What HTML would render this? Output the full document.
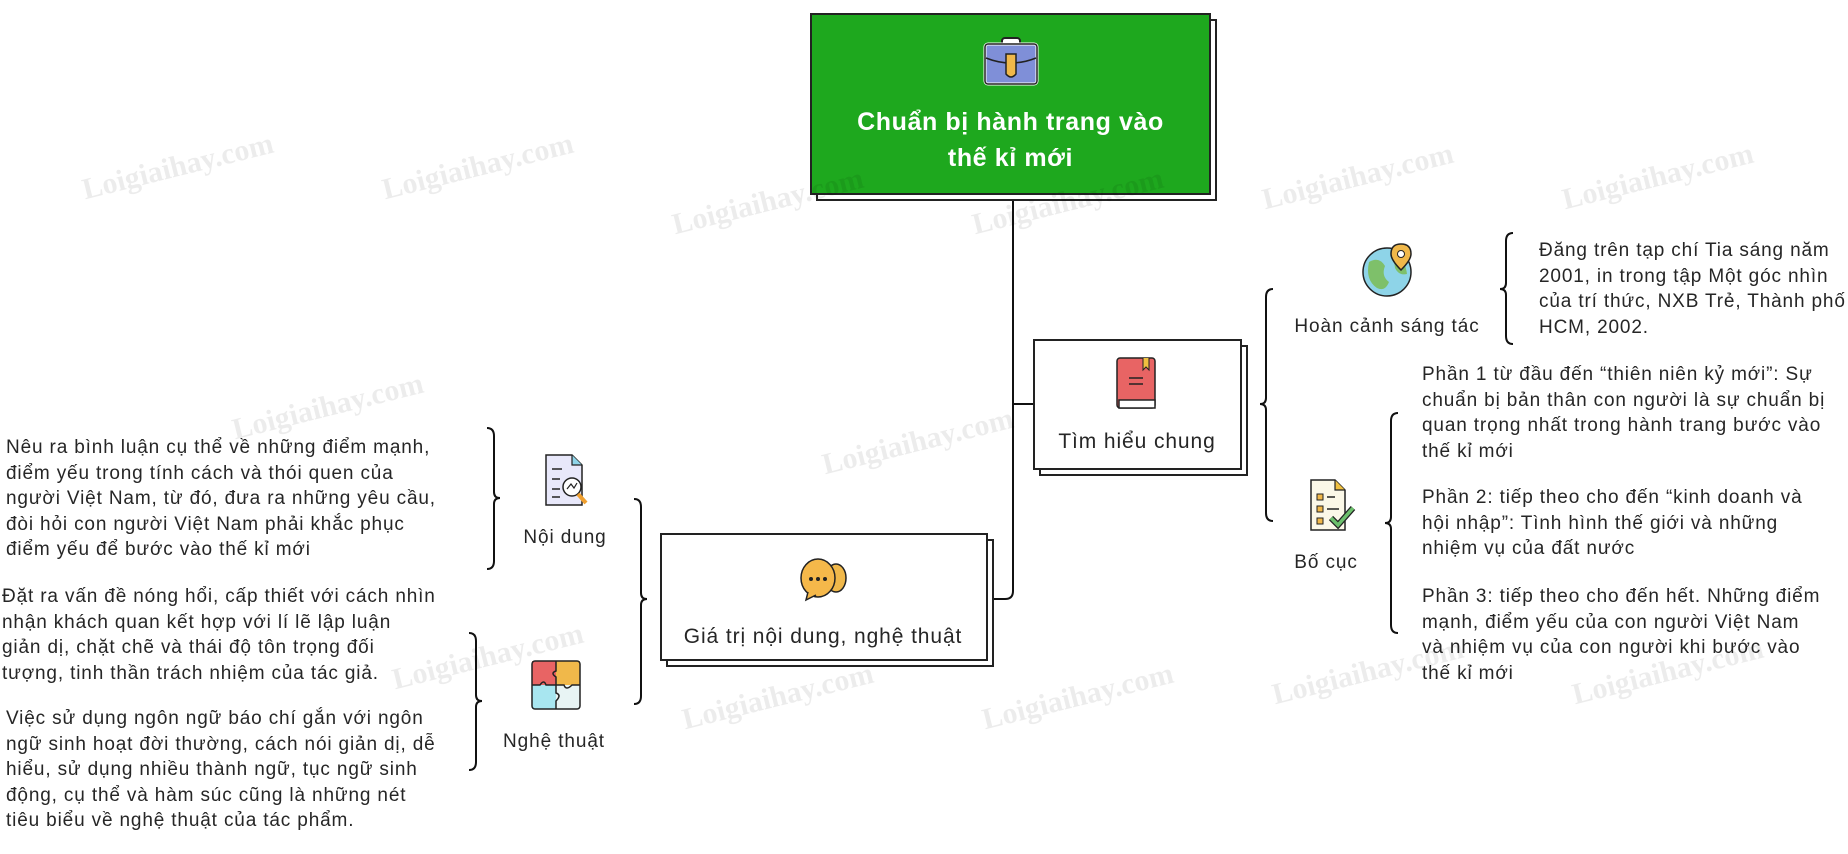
<!DOCTYPE html>
<html><head><meta charset="utf-8">
<style>
body{margin:0;width:1848px;height:854px;background:#fff;position:relative;overflow:hidden;font-family:"Liberation Sans","DejaVu Sans",sans-serif;color:#222}
.t{position:absolute;font-size:19px;letter-spacing:0.85px;line-height:25.5px;white-space:nowrap;color:#262626}
.lbl{position:absolute;font-size:19px;letter-spacing:0.9px;white-space:nowrap;color:#262626;transform:translateX(-50%)}
.wm{position:absolute;font-family:"Liberation Serif",serif;font-weight:bold;font-size:30px;color:#000;opacity:0.07;transform:rotate(-14deg);white-space:nowrap}
</style></head><body>
<svg width="1848" height="854" style="position:absolute;left:0;top:0">
<g fill="none" stroke="#111" stroke-width="2">
<path d="M1013 194 L1013 591 Q1013 599 1005 599 L987 599"/>
<path d="M1013 404 L1034 404"/>
<path d="M1273 289 Q1266 289 1266 297 L1266 398 Q1266 404 1260 404 Q1266 404 1266 410 L1266 513 Q1266 521 1273 521"/>
<path d="M1513 233 Q1506 233 1506 241 L1506 283 Q1506 289 1500 289 Q1506 289 1506 295 L1506 336 Q1506 344 1513 344"/>
<path d="M1398 413 Q1391 413 1391 421 L1391 517 Q1391 523 1385 523 Q1391 523 1391 529 L1391 625 Q1391 633 1398 633"/>
<path d="M634 499 Q641 499 641 507 L641 593 Q641 599 647 599 Q641 599 641 605 L641 696 Q641 704 634 704"/>
<path d="M487 428 Q494 428 494 436 L494 492 Q494 498 500 498 Q494 498 494 504 L494 561 Q494 569 487 569"/>
<path d="M469 633 Q476 633 476 641 L476 695 Q476 701 482 701 Q476 701 476 707 L476 762 Q476 770 469 770"/>
</g>
<rect x="817" y="20" width="399" height="180" fill="#fff" stroke="#222" stroke-width="2"/>
<rect x="811" y="14" width="399" height="180" fill="#1ea81e" stroke="#222" stroke-width="2"/>
<g transform="translate(985,38)">
<rect x="17" y="0" width="18" height="8" rx="3" fill="#fff" stroke="#222" stroke-width="2"/>
<rect x="0" y="6" width="52" height="40" rx="3" fill="#7f8fd8" stroke="#fff" stroke-width="3"/>
<rect x="0" y="6" width="52" height="40" rx="3" fill="none" stroke="#222" stroke-width="1.5"/>
<path d="M1 20 Q26 30 51 20" fill="none" stroke="#222" stroke-width="1.5"/>
<path d="M21 16 L31 16 L31 36 Q26 42 21 36 Z" fill="#f0b84a" stroke="#222" stroke-width="1.5"/>
</g>
<rect x="1040" y="346" width="207" height="129" fill="#fff" stroke="#222" stroke-width="2"/>
<rect x="1034" y="340" width="207" height="129" fill="#fff" stroke="#222" stroke-width="2"/>
<g transform="translate(1117,358)">
<rect x="0" y="0" width="38" height="50" rx="3" fill="#e86464" stroke="#222" stroke-width="1.5"/>
<rect x="2" y="42" width="36" height="8" fill="#fff" stroke="#222" stroke-width="1.5"/>
<path d="M26 0 L26 12 L29 9 L32 12 L32 0" fill="#f0c040" stroke="#222" stroke-width="1"/>
<path d="M12 20 H26 M12 26 H26" stroke="#222" stroke-width="1.5"/>
</g>
<rect x="667" y="540" width="326" height="126" fill="#fff" stroke="#222" stroke-width="2"/>
<rect x="661" y="534" width="326" height="126" fill="#fff" stroke="#222" stroke-width="2"/>
<g transform="translate(800,558)">
<ellipse cx="36" cy="20" rx="10" ry="14" fill="#f0b84a" stroke="#222" stroke-width="1.5"/>
<ellipse cx="18" cy="20" rx="17" ry="19" fill="#f5b84a" stroke="#222" stroke-width="1.5"/>
<path d="M8 34 L6 42 L16 37" fill="#f5b84a" stroke="#222" stroke-width="1.5"/>
<circle cx="11" cy="21" r="2" fill="#222"/><circle cx="18" cy="21" r="2" fill="#222"/><circle cx="25" cy="21" r="2" fill="#222"/>
</g>
<g transform="translate(1363,244)">
<circle cx="24" cy="28" r="24" fill="#8ed4e8" stroke="#222" stroke-width="1.5"/>
<path d="M6 18 Q16 12 22 22 Q18 32 26 38 Q22 48 14 44 Q2 36 6 18Z" fill="#7ec06a"/>
<path d="M30 10 Q42 14 44 30 Q36 32 32 24Z" fill="#7ec06a"/>
<path d="M38 0 Q48 0 48 10 Q48 16 38 26 Q28 16 28 10 Q28 0 38 0Z" fill="#f0b84a" stroke="#222" stroke-width="1.5"/>
<circle cx="38" cy="10" r="3.5" fill="#fff" stroke="#222" stroke-width="1"/>
</g>
<g transform="translate(1311,480)">
<path d="M0 0 H24 L34 10 V50 H0Z" fill="#fbf8e8" stroke="#222" stroke-width="1.5"/>
<path d="M24 0 V10 H34" fill="#f0c040" stroke="#222" stroke-width="1.2"/>
<rect x="6" y="14" width="6" height="6" fill="#f0b84a" stroke="#222"/><rect x="6" y="26" width="6" height="6" fill="#f0b84a" stroke="#222"/><rect x="6" y="38" width="6" height="6" fill="#f0b84a" stroke="#222"/>
<path d="M16 17 H24 M16 29 H28" stroke="#222" stroke-width="1.5"/>
<path d="M20 38 L27 45 L42 28" fill="none" stroke="#222" stroke-width="6"/>
<path d="M20 38 L27 45 L42 28" fill="none" stroke="#6cc06c" stroke-width="3.5"/>
</g>
<g transform="translate(546,455)">
<path d="M0 0 H26 L36 10 V50 H0Z" fill="#e8e8fa" stroke="#222" stroke-width="1.5"/>
<path d="M26 0 V10 H36" fill="#8ed4e8" stroke="#222" stroke-width="1.2"/>
<path d="M6 14 H16 M6 24 H14 M6 34 H14 M6 42 H14" stroke="#222" stroke-width="1.5"/>
<circle cx="26" cy="32" r="9" fill="#fff" stroke="#222" stroke-width="1.5"/>
<path d="M32 39 L40 48" stroke="#f0a030" stroke-width="4"/>
<path d="M21 34 L25 29 L28 33 L31 28" fill="none" stroke="#222" stroke-width="1.2"/>
</g>
<g transform="translate(532,661)">
<rect x="0" y="0" width="24" height="24" fill="#e86464"/><rect x="24" y="0" width="24" height="24" fill="#f0b84a"/>
<rect x="0" y="24" width="24" height="24" fill="#a8e6f0"/><rect x="24" y="24" width="24" height="24" fill="#e8f4f4"/>
<rect x="0" y="0" width="48" height="48" rx="3" fill="none" stroke="#222" stroke-width="1.5"/>
<path d="M24 0 V10 Q18 12 24 16 V24 H14 Q12 18 8 24 H0 M24 24 V32 Q30 34 24 40 V48 M24 24 H32 Q34 30 40 24 H48" fill="none" stroke="#222" stroke-width="1.5"/>
</g>
</svg>

<div style="position:absolute;left:811px;top:104px;width:399px;text-align:center;color:#fff;font-weight:bold;font-size:25px;letter-spacing:0.6px;line-height:36px">Chuẩn bị hành trang vào<br>thế kỉ mới</div>
<div class="lbl" style="left:1137px;top:430px;font-size:21px">Tìm hiểu chung</div>
<div class="lbl" style="left:823px;top:625px;font-size:21px">Giá trị nội dung, nghệ thuật</div>
<div class="lbl" style="left:1387px;top:316px">Hoàn cảnh sáng tác</div>
<div class="lbl" style="left:1326px;top:552px">Bố cục</div>
<div class="lbl" style="left:565px;top:527px">Nội dung</div>
<div class="lbl" style="left:554px;top:731px">Nghệ thuật</div>

<div class="t" style="left:1539px;top:238px">Đăng trên tạp chí Tia sáng năm<br>2001, in trong tập Một góc nhìn<br>của trí thức, NXB Trẻ, Thành phố<br>HCM, 2002.</div>
<div class="t" style="left:1422px;top:362px">Phần 1 từ đầu đến “thiên niên kỷ mới”: Sự<br>chuẩn bị bản thân con người là sự chuẩn bị<br>quan trọng nhất trong hành trang bước vào<br>thế kỉ mới</div>
<div class="t" style="left:1422px;top:485px">Phần 2: tiếp theo cho đến “kinh doanh và<br>hội nhập”: Tình hình thế giới và những<br>nhiệm vụ của đất nước</div>
<div class="t" style="left:1422px;top:584px">Phần 3: tiếp theo cho đến hết. Những điểm<br>mạnh, điểm yếu của con người Việt Nam<br>và nhiệm vụ của con người khi bước vào<br>thế kỉ mới</div>
<div class="t" style="left:6px;top:435px">Nêu ra bình luận cụ thể về những điểm mạnh,<br>điểm yếu trong tính cách và thói quen của<br>người Việt Nam, từ đó, đưa ra những yêu cầu,<br>đòi hỏi con người Việt Nam phải khắc phục<br>điểm yếu để bước vào thế kỉ mới</div>
<div class="t" style="left:2px;top:584px">Đặt ra vấn đề nóng hổi, cấp thiết với cách nhìn<br>nhận khách quan kết hợp với lí lẽ lập luận<br>giản dị, chặt chẽ và thái độ tôn trọng đối<br>tượng, tinh thần trách nhiệm của tác giả.</div>
<div class="t" style="left:6px;top:706px">Việc sử dụng ngôn ngữ báo chí gắn với ngôn<br>ngữ sinh hoạt đời thường, cách nói giản dị, dễ<br>hiểu, sử dụng nhiều thành ngữ, tục ngữ sinh<br>động, cụ thể và hàm súc cũng là những nét<br>tiêu biểu về nghệ thuật của tác phẩm.</div>

<div class="wm" style="left:80px;top:150px">Loigiaihay.com</div>
<div class="wm" style="left:380px;top:150px">Loigiaihay.com</div>
<div class="wm" style="left:670px;top:185px">Loigiaihay.com</div>
<div class="wm" style="left:970px;top:185px">Loigiaihay.com</div>
<div class="wm" style="left:1260px;top:160px">Loigiaihay.com</div>
<div class="wm" style="left:1560px;top:160px">Loigiaihay.com</div>
<div class="wm" style="left:230px;top:390px">Loigiaihay.com</div>
<div class="wm" style="left:820px;top:425px">Loigiaihay.com</div>
<div class="wm" style="left:390px;top:640px">Loigiaihay.com</div>
<div class="wm" style="left:680px;top:680px">Loigiaihay.com</div>
<div class="wm" style="left:980px;top:680px">Loigiaihay.com</div>
<div class="wm" style="left:1270px;top:655px">Loigiaihay.com</div>
<div class="wm" style="left:1570px;top:655px">Loigiaihay.com</div>
</body></html>
